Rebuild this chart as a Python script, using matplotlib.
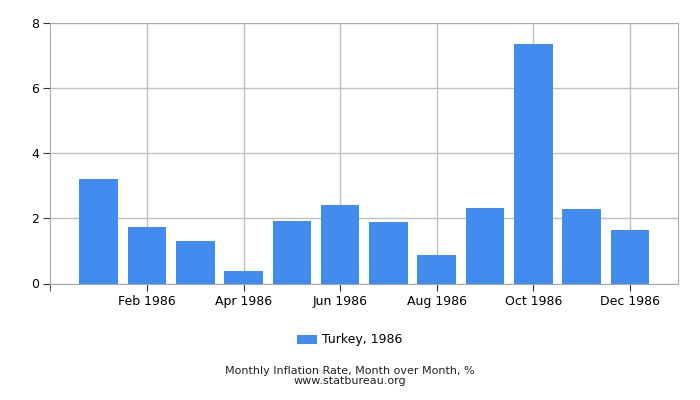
import matplotlib
matplotlib.use("Agg")
import matplotlib.pyplot as plt
import numpy as np

months = ["Jan 1986", "Feb 1986", "Mar 1986", "Apr 1986", "May 1986", "Jun 1986",
          "Jul 1986", "Aug 1986", "Sep 1986", "Oct 1986", "Nov 1986", "Dec 1986"]
inflation = [3.20, 1.73, 1.30, 0.38, 1.91, 2.40, 1.88, 0.87, 2.31, 7.34, 2.28, 1.63]
series_name = "Turkey, 1986"
caption = "Monthly Inflation Rate, Month over Month, %\nwww.statbureau.org"

bar_color = "#428bef"
grid_color = "#c0c0c0"

fig = plt.figure(figsize=(7, 4), dpi=100)
ax = fig.add_axes([50.3 / 700, 1 - 283.5 / 400, 628 / 700, 261 / 400])

x = np.arange(len(months))
ax.bar(x, inflation, width=0.8, color=bar_color, label=series_name, zorder=3)

ax.set_xlim(-1, 12)
ax.set_ylim(0, 8)
ax.set_yticks([0, 2, 4, 6, 8])
ax.set_xticks(x[1::2])
ax.set_xticklabels(months[1::2])
ax.set_xticks([-1], minor=True)
ax.tick_params(axis="both", which="both", labelsize=9, color="#333333", length=5, pad=3)
ax.grid(True, color=grid_color, linewidth=1, zorder=0)
for s in ax.spines.values():
    s.set_color("#aaaaaa")

fig.legend(loc="center", bbox_to_anchor=(350 / 700, 1 - 340 / 400), frameon=False,
           fontsize=9, handlelength=1.6, handleheight=0.7, handletextpad=0.4)
fig.text(0.5, 1 - 376 / 400, caption, ha="center", va="center", fontsize=8,
         linespacing=0.95, color="#222222")

fig.savefig("out.png", dpi=100)
